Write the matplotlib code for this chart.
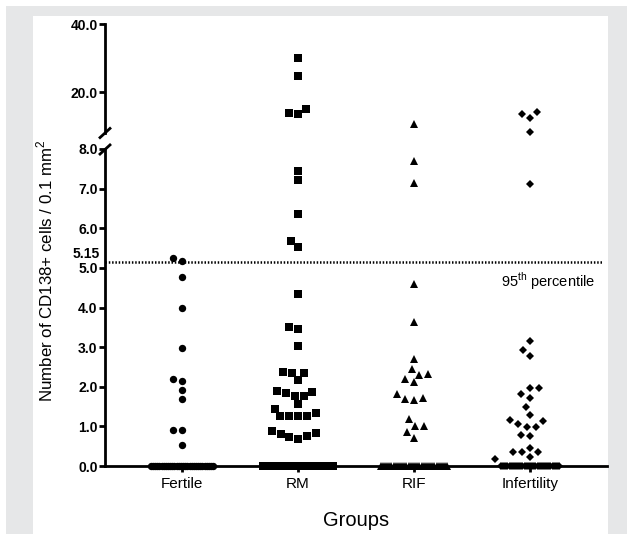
import matplotlib
matplotlib.use('Agg')
import matplotlib.pyplot as plt
import numpy as np
from matplotlib.patches import Rectangle
from matplotlib.lines import Line2D

plt.rcParams['font.family'] = ['Liberation Sans', 'DejaVu Sans']
plt.rcParams['mathtext.fontset'] = 'custom'
plt.rcParams['mathtext.rm'] = 'Liberation Sans'

# ---------------- data ----------------
groups = ['Fertile', 'RM', 'RIF', 'Infertility']
fertile = [5.17, 5.24, 4.77, 3.98, 2.97, 2.15, 2.19, 1.92, 1.69, 0.90, 0.91, 0.53]
rm = [30.1, 24.8, 15.1, 13.7, 14.0, 7.44, 7.21, 6.37, 5.68, 5.53, 4.34, 3.50, 3.45,
      3.03, 2.38, 2.34, 2.17, 2.34, 1.85, 1.87, 1.77, 1.89, 1.77, 1.56, 1.33, 1.44,
      1.25, 1.25, 1.25, 1.25, 0.89, 0.82, 0.72, 0.69, 0.76, 0.83]
rif = [10.6, 7.69, 7.13, 4.59, 3.64, 2.69, 2.29, 2.44, 2.32, 2.11, 2.20, 1.81, 1.68,
       1.66, 1.72, 1.18, 1.01, 1.02, 0.87, 0.71]
infertility = [14.1, 12.3, 13.6, 8.4, 7.11, 3.16, 2.77, 2.92, 1.96, 1.82, 1.96, 1.72,
               1.50, 1.29, 1.14, 1.16, 1.05, 0.98, 0.98, 0.76, 0.79, 0.46, 0.35, 0.35,
               0.35, 0.23, 0.18]
zero_counts = [30, 34, 32, 28]          # number of samples with value 0 per group
threshold = 5.15
threshold_label = '95$^{\\mathregular{th}}$ percentile'
lower_ticks = [0, 1, 2, 3, 4, 5, 6, 7, 8]
upper_ticks = [20, 40]
break_low, break_high = 8, 40

series = [fertile, rm, rif, infertility]
markers = ['o', 's', '^', 'D']
msizes = [5.3, 5.1, 5.4, 3.8]

# ---------------- layout ----------------
W, H = 627, 534
fig = plt.figure(figsize=(W / 100, H / 100), dpi=100)
fig.patch.set_facecolor('white')
gray = '#e6e7e8'
fig.add_artist(Rectangle((6 / W, -0.1), 1.1, 1.1 - 6 / H, transform=fig.transFigure,
                         facecolor=gray, edgecolor='none', zorder=-20))
fig.add_artist(Rectangle((33 / W, -0.1), (608 - 33) / W, 1.1 - 16 / H, transform=fig.transFigure,
                         facecolor='white', edgecolor='none', zorder=-19))


def fr(x0, y0, x1, y1):
    return [x0 / W, 1 - y1 / H, (x1 - x0) / W, (y1 - y0) / H]


ax_lo = fig.add_axes(fr(105, 149, 607, 466))
ax_hi = fig.add_axes(fr(105, 24, 607, 133))
LW = 2.0
for ax in (ax_lo, ax_hi):
    ax.patch.set_visible(False)
    ax.set_xlim(-0.664, 3.664)
    ax.spines['top'].set_visible(False)
    ax.spines['right'].set_visible(False)
    ax.spines['left'].set_linewidth(LW)
    ax.spines['bottom'].set_linewidth(LW)
    ax.tick_params(axis='y', direction='out', length=4.5, width=LW, pad=0.8,
                   labelsize=10)
ax_lo.set_ylim(0, break_low)
ax_hi.set_ylim(break_low, break_high)
ax_hi.spines['bottom'].set_visible(False)
ax_hi.set_xticks([])

ax_lo.set_yticks(lower_ticks)
ax_lo.set_yticklabels(['%.1f' % t for t in lower_ticks], fontweight='bold')
ax_hi.set_yticks(upper_ticks)
ax_hi.set_yticklabels(['%.1f' % t for t in upper_ticks], fontweight='bold')
ax_lo.set_xticks(range(len(groups)))
ax_lo.set_xticklabels(groups, fontsize=11)
ax_lo.tick_params(axis='x', direction='out', length=4, width=LW, pad=4)

# break marks
for yc in (133, 149.5):
    fig.add_artist(Line2D([(105 - 6) / W, (105 + 6) / W],
                          [1 - (yc + 5.5) / H, 1 - (yc - 5.5) / H],
                          transform=fig.transFigure, color='black', lw=LW,
                          solid_capstyle='butt'))

# ---------------- points (beeswarm layout) ----------------
fig.canvas.draw()


def to_px(v):
    ax = ax_hi if v > break_low else ax_lo
    return ax.transData.transform((0, v))[1]


px_per_unit = ax_lo.transData.transform((1, 0))[0] - ax_lo.transData.transform((0, 0))[0]
zero_spacing = 2.15  # px
D = 9.0              # collision diameter in px

for gi, (vals, n0) in enumerate(zip(series, zero_counts)):
    placed = []
    zx = (np.arange(n0) - (n0 - 1) / 2) * zero_spacing
    y0 = to_px(0)
    for z in zx:
        placed.append((z, y0))
    ys = np.array([to_px(v) for v in vals])
    order = np.argsort(ys)
    offs = np.zeros(len(vals))
    cands = np.arange(-70, 70.01, 0.5)
    cands = sorted(cands, key=lambda c: (abs(c), c))
    for i in order:
        y = ys[i]
        for c in cands:
            ok = True
            for (px, py) in placed:
                if (c - px) ** 2 + (y - py) ** 2 < D * D:
                    ok = False
                    break
            if ok:
                break
        offs[i] = c
        placed.append((c, y))
    xs = gi + offs / px_per_unit
    vals_arr = np.array(vals)
    lo = vals_arr <= break_low
    hi = ~lo
    kw = dict(linestyle='none', marker=markers[gi], ms=msizes[gi], color='black',
              markeredgewidth=0, clip_on=False, zorder=5)
    ax_lo.plot(xs[lo], vals_arr[lo], **kw)
    ax_hi.plot(xs[hi], vals_arr[hi], **kw)
    ax_lo.plot(gi + zx / px_per_unit, np.zeros(n0), **kw)

# threshold line
ax_lo.axhline(threshold, xmin=0, xmax=0.993, color='black', lw=1.8,
              linestyle=(0, (0.6, 0.72)), zorder=3)
ax_lo.annotate('%.2f' % threshold, xy=(0, threshold), xycoords=('axes fraction', 'data'),
               xytext=(-3.8, 5.5), textcoords='offset points', ha='right', va='center',
               fontsize=10, fontweight='bold')
ax_lo.text(0.976, 4.66, threshold_label, transform=ax_lo.get_yaxis_transform(),
           ha='right', va='center', fontsize=10.5)

# axis titles
fig.text(45 / W, 1 - 271 / H, 'Number of CD138+ cells / 0.1 mm$^{\\mathregular{2}}$',
         rotation=90, ha='center', va='center', fontsize=12.2)
fig.text(356 / W, 1 - 521 / H, 'Groups', ha='center', va='center', fontsize=14.5)

fig.savefig('out.png', dpi=100, facecolor=fig.get_facecolor())
